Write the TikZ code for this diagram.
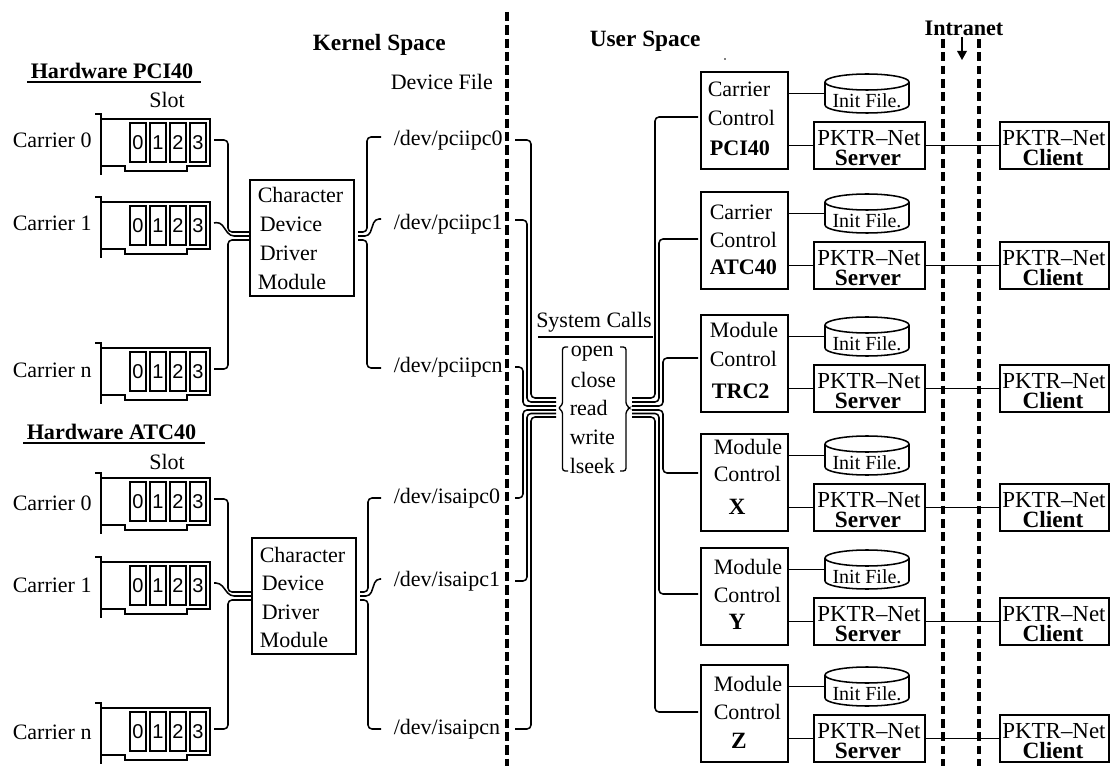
\documentclass[tikz,border=0pt]{standalone}
\usepackage{fontspec}
\setmainfont{Liberation Serif}
\newfontfamily\digitfont{Liberation Sans}
\newcommand{\bodysz}{\fontsize{16.5}{18}\selectfont}
\newcommand{\boldsz}{\fontsize{17.5}{19}\selectfont\bfseries}
\newcommand{\smallbold}{\fontsize{16.6}{18}\selectfont\bfseries}
\tikzset{
  x=0.75pt,y=-0.75pt,
  every path/.style={line width=1.15pt,black},
  lbl/.style={anchor=west,inner sep=0pt,font=\bodysz},
  bld/.style={anchor=west,inner sep=0pt,font=\boldsz},
  sbld/.style={anchor=west,inner sep=0pt,font=\smallbold},
  cbld/.style={anchor=center,inner sep=0pt,font=\boldsz},
  clbl/.style={anchor=center,inner sep=0pt,font=\bodysz},
  boxed/.style={draw,rectangle,inner sep=0pt},
  ghost/.style={rectangle,inner sep=0pt},
  slotbox/.style={boxed,minimum width=12pt,minimum height=29.25pt,font=\digitfont\fontsize{15}{16}\selectfont},
  wire/.style={rounded corners=3pt},
  bigdash/.style={line width=2.6pt,dash pattern=on 7pt off 3pt},
  netdash/.style={line width=2.4pt,dash pattern=on 6.5pt off 3.5pt},
  card/.pic={
    \draw (95,0) -- (101,0) -- (101,61);
    \node[ghost,minimum width=81.75pt,minimum height=35.25pt] (body) at (155.5,28.5) {};
    \draw (101,5) -- (210,5) -- (210,52) -- (187,52) -- (187,57) -- (125,57) -- (125,52) -- (101,52);
    \node[slotbox] (s0) at (138,28.5) {0};
    \node[slotbox] (s1) at (158,28.5) {1};
    \node[slotbox] (s2) at (178,28.5) {2};
    \node[slotbox] (s3) at (198,28.5) {3};
    \coordinate (port) at (214,26);
  },
}
% name, top of control box
\newcommand{\rowblock}[2]{%
  \node[boxed,minimum width=65.25pt,minimum height=72.75pt] (#1-ctrl) at (744.5,#2+48.5) {};
  \node[ghost,minimum width=63pt,minimum height=29.25pt] (#1-cyl) at (867,#2+21.5) {};
  \draw (867,#2+10) ellipse [x radius=42,y radius=8];
  \draw (825,#2+10) -- (825,#2+33) arc[start angle=180,end angle=360,x radius=42,y radius=-8] -- (909,#2+10);
  \node[clbl,font=\fontsize{15}{16}\selectfont] (#1-init) at (867,#2+29) {Init File.};
  \node[boxed,minimum width=83.25pt,minimum height=35.25pt] (#1-srv) at (869.5,#2+73.5) {};
  \node[boxed,minimum width=81.75pt,minimum height=35.25pt] (#1-cli) at (1054.5,#2+73.5) {};
  \node[clbl,font=\fontsize{17.2}{18}\selectfont] (#1-srvA) at (869,#2+66) {PKTR–Net};
  \node[cbld] (#1-srvB) at (868,#2+86) {Server};
  \node[clbl,font=\fontsize{17.2}{18}\selectfont] (#1-cliA) at (1054,#2+66) {PKTR–Net};
  \node[cbld] (#1-cliB) at (1053,#2+86) {Client};
  \draw (#1-ctrl.east |- #1-cyl.west) -- (#1-cyl.west);
  \draw (#1-ctrl.east |- #1-srv.west) -- (#1-srv.west);
  \draw (#1-srv.east) -- (#1-cli.west);
}
\begin{document}
\begin{tikzpicture}
\useasboundingbox (0,0) rectangle (1110,766);
% separators
\coordinate (sepT) at (507,12); \coordinate (sepB) at (507,766);
\draw[bigdash] (sepT) -- (sepB);
\coordinate (netAT) at (943,39); \coordinate (netAB) at (943,766);
\coordinate (netBT) at (979,39); \coordinate (netBB) at (979,766);
\draw[netdash] (netAT) -- (netAB);
\draw[netdash] (netBT) -- (netBB);
% titles
\node[bld] (kernel) at (312,45) {Kernel Space};
\node[bld] (user) at (589,41) {User Space};
\node[lbl] (devfile) at (390,82) {Device File};
\node[cbld,font=\smallbold] (intranet) at (964,28) {Intranet};
\coordinate (arrT) at (962,37); \coordinate (arrB) at (962,60);
\draw[line width=1pt] (arrT) -- (962,52);
\fill (957,51) -- (967,51) -- (arrB) -- cycle;
\fill (725,59) circle[radius=0.8];
% hardware PCI40
\node[sbld] (hwp) at (30,71) {Hardware PCI40};
\coordinate (hwpA) at (27,82); \coordinate (hwpB) at (201,82);
\draw (hwpA) -- (hwpB);
\node[clbl] (slotp) at (167,100) {Slot};
\pic (pa-) at (0,114) {card};
\pic (pb-) at (0,197) {card};
\pic (pc-) at (0,343) {card};
\node[lbl] (lpa) at (12,140) {Carrier 0};
\node[lbl] (lpb) at (12,223) {Carrier 1};
\node[lbl] (lpc) at (12,370) {Carrier n};
% hardware ATC40
\node[sbld] (hwa) at (26,432) {Hardware ATC40};
\coordinate (hwaA) at (23,443); \coordinate (hwaB) at (205,443);
\draw (hwaA) -- (hwaB);
\node[clbl] (slota) at (167,462) {Slot};
\pic (qa-) at (0,473) {card};
\pic (qb-) at (0,557) {card};
\pic (qc-) at (0,703) {card};
\node[lbl] (lqa) at (12,503) {Carrier 0};
\node[lbl] (lqb) at (12,585) {Carrier 1};
\node[lbl] (lqc) at (12,732) {Carrier n};
% driver boxes
\node[boxed,minimum width=78pt,minimum height=87pt] (cdp) at (302,238) {};
\node[lbl] (cdp1) at (257,195) {Character};
\node[lbl] (cdp2) at (259,224) {Device};
\node[lbl] (cdp3) at (259,253) {Driver};
\node[lbl] (cdp4) at (257,282) {Module};
\node[boxed,minimum width=78pt,minimum height=87pt] (cda) at (304,596) {};
\node[lbl] (cda1) at (259,555) {Character};
\node[lbl] (cda2) at (261,583) {Device};
\node[lbl] (cda3) at (261,612) {Driver};
\node[lbl] (cda4) at (259,640) {Module};
% cards to driver
\coordinate (pa-in) at (249,232); \coordinate (pb-in) at (249,236); \coordinate (pc-in) at (249,240);
\coordinate (qa-in) at (251,592); \coordinate (qb-in) at (251,596); \coordinate (qc-in) at (251,600);
\coordinate (pbmid) at (230,236); \coordinate (qbmid) at (230,596);
\draw[wire] (pa-port) -| (228,232) -- (pa-in);
\draw[wire] (pb-port) -- (220,222) -- (pbmid) -- (pb-in);
\draw[wire] (pc-port) -| (228,240) -- (pc-in);
\draw[wire] (qa-port) -| (228,592) -- (qa-in);
\draw[wire] (qb-port) -- (220,583) -- (qbmid) -- (qb-in);
\draw[wire] (qc-port) -| (228,600) -- (qc-in);
% device files
\node[lbl] (dp0) at (393,140) {/dev/pciipc0};
\node[lbl] (dp1) at (393,224) {/dev/pciipc1};
\node[lbl] (dpn) at (393,367) {/dev/pciipcn};
\node[lbl] (da0) at (393,498) {/dev/isaipc0};
\node[lbl] (da1) at (393,581) {/dev/isaipc1};
\node[lbl] (dan) at (393,729) {/dev/isaipcn};
% driver to device files
\draw[wire] (358,232) -- (367,232) -- (367,137) -- (381,137);
\draw[wire] (358,236) -- (369,236) -- (375,219) -- (381,219);
\draw[wire] (358,240) -- (367,240) -- (367,368) -- (381,368);
\draw[wire] (360,592) -- (368,592) -- (368,498) -- (381,498);
\draw[wire] (360,596) -- (370,596) -- (376,579) -- (381,579);
\draw[wire] (360,600) -- (368,600) -- (368,729) -- (381,729);
% device files to system calls
\node[clbl] (sys) at (594,322) {System Calls};
\coordinate (sysA) at (538,337); \coordinate (sysB) at (653,337);
\draw (sysA) -- (sysB);
\node[lbl] (call1) at (570,354) {open};
\node[lbl] (call2) at (570,380) {close};
\node[lbl] (call3) at (569,408) {read};
\node[lbl] (call4) at (569,437) {write};
\node[lbl] (call5) at (569,466) {lseek};
\draw[rounded corners=2pt,line width=1pt] (568,347) -- (562.5,347) -- (562.5,405) -- (558,408) -- (562.5,411) -- (562.5,471) -- (568,471);
\draw[rounded corners=2pt,line width=1pt] (620,347) -- (626,347) -- (626,405) -- (630,408) -- (626,411) -- (626,471) -- (620,471);
\draw[wire] (515,140) -- (531,140) -- (531,398) -- (556,398);
\draw[wire] (515,220) -- (527,220) -- (527,402) -- (556,402);
\draw[wire] (515,367) -- (523,367) -- (523,406) -- (556,406);
\draw[wire] (515,498) -- (523,498) -- (523,410) -- (556,410);
\draw[wire] (515,581) -- (527,581) -- (527,413.5) -- (556,413.5);
\draw[wire] (515,729) -- (531,729) -- (531,417) -- (556,417);
% control blocks
\rowblock{pci}{72}
\rowblock{atc}{192}
\rowblock{trc}{315}
\rowblock{xx}{434}
\rowblock{yy}{548}
\rowblock{zz}{665}
\node[lbl] (t1a) at (707,89) {Carrier};
\node[lbl] (t1b) at (707,118) {Control};
\node[sbld] (t1c) at (709,148) {PCI40};
\node[lbl] (t2a) at (709,212) {Carrier};
\node[lbl] (t2b) at (709,240) {Control};
\node[sbld] (t2c) at (709,267) {ATC40};
\node[lbl] (t3a) at (709,330) {Module};
\node[lbl] (t3b) at (709,359) {Control};
\node[sbld] (t3c) at (711,391) {TRC2};
\node[lbl] (t4a) at (713,447) {Module};
\node[lbl] (t4b) at (713,474) {Control};
\node[cbld] (t4c) at (737,507) {X};
\node[lbl] (t5a) at (713,567) {Module};
\node[lbl] (t5b) at (713,595) {Control};
\node[cbld] (t5c) at (737,622) {Y};
\node[lbl] (t6a) at (713,684) {Module};
\node[lbl] (t6b) at (713,712) {Control};
\node[cbld] (t6c) at (739,741) {Z};
% system calls to control blocks
\coordinate (in1) at (698,117); \coordinate (in2) at (698,239); \coordinate (in3) at (698,358);
\coordinate (in4) at (698,473); \coordinate (in5) at (698,594); \coordinate (in6) at (698,712);
\draw[wire] (632,398) -- (655,398) -- (655,117) -- (in1);
\draw[wire] (632,402) -- (659,402) -- (659,239) -- (in2);
\draw[wire] (632,406) -- (663,406) -- (663,358) -- (in3);
\draw[wire] (632,410) -- (663,410) -- (663,473) -- (in4);
\draw[wire] (632,413.5) -- (659,413.5) -- (659,594) -- (in5);
\draw[wire] (632,417) -- (655,417) -- (655,712) -- (in6);
\end{tikzpicture}
\end{document}
